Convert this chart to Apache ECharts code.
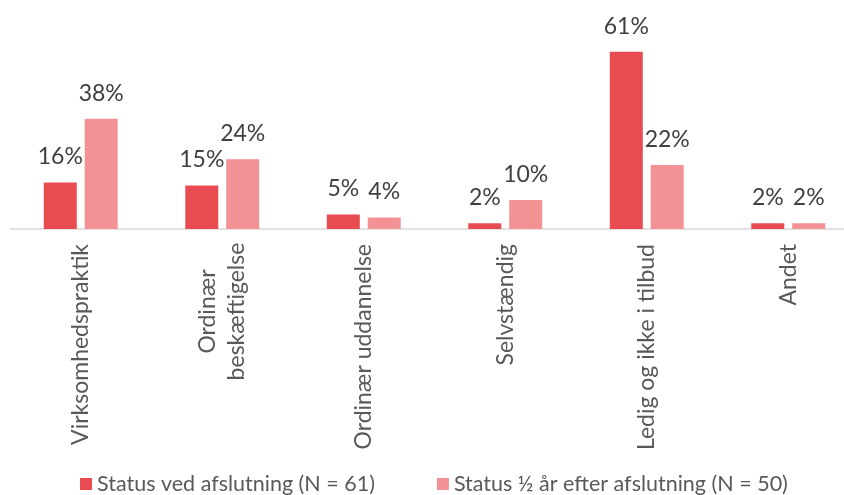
<!DOCTYPE html>
<html>
<head>
<meta charset="utf-8">
<script src="https://cdn.jsdelivr.net/npm/echarts@6/dist/echarts.min.js"></script>
<style>html,body{margin:0;padding:0;background:#fff}#c{width:844px;height:495px}</style>
</head>
<body>
<div id="c"></div>
<script>
const categories = ['Virksomhedspraktik', 'Ordinær\nbeskæftigelse', 'Ordinær uddannelse', 'Selvstændig', 'Ledig og ikke i tilbud', 'Andet'];
const seriesNames = ['Status ved afslutning (N = 61)', 'Status ½ år efter afslutning (N = 50)'];
const valuesAtEnd = [16, 15, 5, 2, 61, 2];
const valuesHalfYear = [38, 24, 4, 10, 22, 2];

const FONT = 'Lato';
const chart = echarts.init(document.getElementById('c'), null, {renderer: 'canvas'});
const labelCfg = {
  show: true, position: 'top', distance: 14,
  formatter: p => p.value + '%',
  color: '#404040', fontSize: 23, fontFamily: FONT
};
chart.setOption({
  animation: false,
  grid: {left: 10, right: -15, top: 25.7, bottom: 266, outerBoundsMode: 'none'},
  xAxis: {
    type: 'category', data: categories,
    axisLine: {lineStyle: {color: '#d9d9d9', width: 1.5}},
    axisTick: {show: false},
    axisLabel: {
      rotate: 90, margin: 15, interval: 0,
      color: '#595959', fontSize: 23, fontFamily: FONT, lineHeight: 29,
      formatter: v => v.indexOf('\n') < 0 ? v : v.split('\n').map(s => '{c|' + s + '}').join('\n'),
      rich: {c: {align: 'center', width: 135, color: '#595959', fontSize: 23, fontFamily: FONT, lineHeight: 29}}
    }
  },
  yAxis: {type: 'value', min: 0, max: 70, show: false, splitLine: {show: false}},
  legend: {
    left: 80, top: 473, width: 800, padding: 0, itemWidth: 12, itemHeight: 12, itemGap: 62,
    icon: 'rect',
    textStyle: {color: '#595959', fontSize: 21.5, fontFamily: FONT},
    data: seriesNames
  },
  series: [
    {name: seriesNames[0], type: 'bar', data: valuesAtEnd, barWidth: 33, barGap: '24%',
     itemStyle: {color: '#E84C50'}, label: labelCfg},
    {name: seriesNames[1], type: 'bar', data: valuesHalfYear, barWidth: 33, barGap: '24%',
     itemStyle: {color: '#F39294'}, label: labelCfg}
  ]
});
</script>
</body>
</html>
